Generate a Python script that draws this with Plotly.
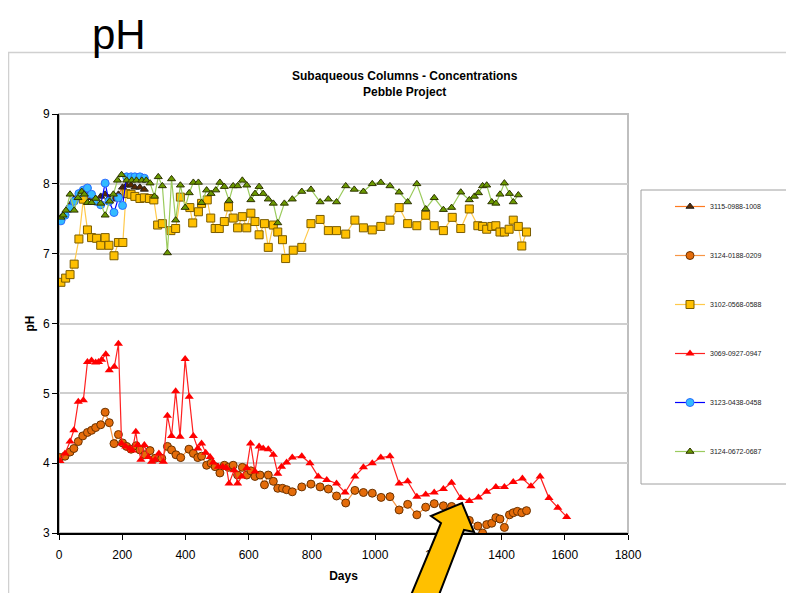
import plotly.graph_objects as go

# ---------------- data ----------------
days_3115 = [6, 19, 35, 48, 63, 77, 90, 103, 116, 132, 146, 158, 174, 188, 201, 214, 228, 240, 256, 270]
ph_3115 = [7.50, 7.58, 7.70, 7.78, 7.82, 7.85, 7.88, 7.80, 7.78, 7.82, 7.85, 7.80, 7.78, 7.85, 7.95, 7.98, 7.98, 7.95, 7.95, 7.92]

days_3124a = [3, 19, 35, 47, 61, 75, 90, 103, 116, 132, 146, 159, 174, 188, 201, 214, 228, 244, 256, 272,
              288, 304, 325, 343, 356, 370, 385, 411, 425, 439, 451, 467, 481, 494, 509, 523, 536, 551, 565, 580,
              594, 607, 620, 636, 650, 662, 678, 692, 707, 720, 738, 768, 797, 826, 852, 878, 907, 936, 963, 991,
              1019, 1047, 1076, 1103, 1132, 1160, 1187, 1216, 1242, 1270, 1298, 1325, 1340, 1353, 1369, 1382, 1395, 1409, 1425, 1437,
              1450, 1464, 1479]
ph_3124a = [4.08, 4.10, 4.16, 4.21, 4.31, 4.39, 4.44, 4.47, 4.51, 4.55, 4.73, 4.58, 4.28, 4.41, 4.29, 4.24, 4.20, 4.25, 4.19, 4.12,
            4.18, 4.07, 4.07, 4.24, 4.19, 4.12, 4.08, 4.20, 4.14, 4.08, 4.10, 3.97, 4.00, 3.95, 3.86, 3.97, 3.94, 3.97, 3.83, 3.94,
            3.83, 3.89, 3.81, 3.83, 3.69, 3.83, 3.74, 3.64, 3.64, 3.62, 3.59, 3.66, 3.70, 3.66, 3.63, 3.53, 3.43, 3.61, 3.58, 3.57,
            3.51, 3.52, 3.33, 3.41, 3.26, 3.37, 3.42, 3.39, 3.38, 3.33, 3.18, 3.10, 3.00, 3.12, 3.14, 3.22, 3.20, 3.08, 3.26, 3.29,
            3.31, 3.29, 3.32]

days_3102 = [6, 21, 35, 48, 63, 77, 90, 103, 119, 132, 146, 158, 174, 188, 202, 212, 228, 240, 256, 270,
             286, 300, 312, 327, 354, 369, 384, 414, 423, 441, 451, 469, 480, 494, 507, 523, 536, 551, 565, 580,
             594, 607, 620, 633, 650, 662, 678, 692, 707, 717, 741, 768, 797, 826, 852, 878, 907, 936, 963, 991,
             1018, 1047, 1076, 1103, 1132, 1160, 1187, 1216, 1244, 1271, 1298, 1325, 1340, 1353, 1369, 1382, 1395, 1409, 1424, 1437,
             1453, 1464, 1479]
ph_3102 = [6.59, 6.65, 6.70, 6.85, 7.21, 7.78, 7.34, 7.23, 7.22, 7.12, 7.23, 7.12, 6.97, 7.16, 7.16, 7.86, 7.85, 7.82, 7.79, 7.80,
           7.79, 7.77, 7.41, 7.43, 7.33, 7.36, 7.81, 7.66, 7.44, 7.60, 7.72, 7.77, 7.51, 7.36, 7.36, 7.46, 7.67, 7.51, 7.37, 7.53,
           7.37, 7.58, 7.46, 7.27, 7.43, 7.09, 7.41, 7.31, 7.20, 6.93, 7.05, 7.09, 7.43, 7.49, 7.33, 7.33, 7.28, 7.48, 7.37, 7.34,
           7.39, 7.48, 7.66, 7.43, 7.40, 7.55, 7.40, 7.33, 7.52, 7.36, 7.64, 7.40, 7.39, 7.35, 7.39, 7.40, 7.31, 7.31, 7.35, 7.48,
           7.39, 7.11, 7.31]

days_3069 = [3, 19, 35, 47, 61, 77, 90, 103, 116, 125, 135, 148, 159, 175, 188, 198, 211, 225, 232, 243,
             249, 259, 270, 283, 293, 304, 316, 330, 343, 356, 369, 383, 399, 412, 425, 439, 451, 464, 478, 488,
             504, 518, 530, 538, 554, 565, 578, 594, 606, 620, 633, 646, 662, 678, 692, 704, 720, 738, 768, 794,
             820, 847, 878, 905, 936, 963, 991, 1018, 1047, 1076, 1103, 1132, 1160, 1187, 1216, 1242, 1271, 1298, 1327, 1353,
             1382, 1409, 1437, 1466, 1493, 1522, 1550, 1578, 1606]
ph_3069 = [4.03, 4.14, 4.31, 4.47, 4.88, 4.90, 5.45, 5.47, 5.44, 5.45, 5.48, 5.56, 5.33, 5.38, 5.71, 4.28, 4.24, 4.21, 4.18, 4.45,
           4.26, 4.05, 4.26, 4.09, 4.02, 4.05, 4.14, 4.02, 4.68, 4.39, 5.03, 4.38, 5.49, 4.95, 4.39, 4.21, 4.28, 4.15, 4.09, 4.01,
           3.95, 3.95, 3.93, 3.71, 3.90, 3.71, 3.81, 3.93, 4.28, 3.88, 4.24, 4.21, 4.20, 4.12, 3.85, 3.95, 4.01, 4.08, 4.10, 4.00,
           3.81, 3.76, 3.71, 3.58, 3.81, 3.94, 4.00, 4.08, 4.10, 3.71, 3.74, 3.52, 3.55, 3.58, 3.63, 3.72, 3.50, 3.46, 3.51, 3.59,
           3.66, 3.66, 3.73, 3.78, 3.67, 3.81, 3.50, 3.36, 3.23]

days_3123 = [6, 19, 35, 48, 63, 77, 90, 103, 116, 132, 146, 158, 174, 188, 201, 214, 228, 240, 256, 270]
ph_3123 = [7.47, 7.55, 7.65, 7.75, 7.86, 7.91, 7.94, 7.85, 7.75, 7.70, 8.01, 7.75, 7.59, 7.80, 7.69, 8.10, 8.10, 8.10, 8.10, 8.08]

days_3124b = [6, 13, 22, 35, 48, 60, 72, 80, 90, 103, 116, 132, 146, 160, 172, 185, 198, 214, 230, 245,
              262, 276, 288, 302, 314, 327, 343, 356, 369, 384, 399, 412, 425, 441, 451, 467, 481, 496, 509, 523,
              538, 551, 565, 580, 594, 607, 620, 633, 646, 662, 678, 692, 713, 738, 768, 797, 826, 852, 878, 907,
              934, 963, 991, 1018, 1047, 1076, 1103, 1132, 1160, 1187, 1216, 1242, 1271, 1298, 1314, 1327, 1340, 1353, 1369, 1382,
              1395, 1409, 1425, 1437, 1453]
ph_3124b = [7.52, 7.55, 7.62, 7.85, 7.62, 7.80, 7.89, 7.85, 7.73, 7.73, 7.79, 7.72, 7.55, 7.75, 7.85, 8.05, 8.13, 8.05, 8.05, 8.05,
            8.05, 8.05, 8.01, 7.82, 8.10, 7.97, 7.01, 8.07, 7.48, 7.98, 7.66, 7.87, 8.02, 8.02, 7.73, 7.91, 7.86, 7.91, 8.02, 7.96,
            7.76, 7.97, 7.97, 8.05, 7.98, 7.77, 7.86, 7.96, 7.86, 7.78, 7.72, 7.44, 7.72, 7.78, 7.89, 7.92, 7.74, 7.78, 7.74, 7.97,
            7.92, 7.89, 8.00, 8.02, 7.97, 7.88, 7.74, 8.00, 7.64, 7.80, 7.63, 7.66, 7.88, 7.77, 7.82, 7.87, 7.97, 7.98, 7.74, 7.72,
            7.85, 8.01, 7.86, 7.74, 7.84]

x_ticks = [0, 200, 400, 600, 800, 1000, 1200, 1400, 1600, 1800]
y_ticks = [3, 4, 5, 6, 7, 8, 9]

# ---------------- geometry helpers (screen pixel -> paper) ----------------
# the page body has an 8px margin, so the figure starts at screen (8, 8)
OFF = 8
SW, SH = 794, 593
W, H = SW - OFF, SH - OFF
X0, X1, Y0, Y1 = 59, 628, 114, 533   # plot area in screen pixels
ML, MR, MT, MB = X0 - OFF, SW - X1, Y0 - OFF, SH - Y1
PW, PH = X1 - X0, Y1 - Y0


def px(x):
    return (x - X0) / PW


def py(y):
    return (Y1 - y) / PH


FONT = "Liberation Sans, Arial, sans-serif"

series = [
    ("3115-0988-1008", days_3115, ph_3115, "#FF7A1F", dict(symbol="triangle-up", size=7, color="#5a2a00",
                                                           line=dict(color="#222", width=1))),
    ("3124-0188-0209", days_3124a, ph_3124a, "#F79646", dict(symbol="circle", size=8, color="#E46C0A",
                                                             line=dict(color="#6b3200", width=1))),
    ("3102-0568-0588", days_3102, ph_3102, "#FFC94A", dict(symbol="square", size=8, color="#FFC000",
                                                           line=dict(color="#7a5c00", width=1))),
    ("3069-0927-0947", days_3069, ph_3069, "#FF2020", dict(symbol="triangle-up", size=8, color="#FF0000",
                                                           line=dict(color="#FF0000", width=0))),
    ("3123-0438-0458", days_3123, ph_3123, "#0000FF", dict(symbol="circle", size=8, color="#33BBFF",
                                                           line=dict(color="#2a6cff", width=1))),
    ("3124-0672-0687", days_3124b, ph_3124b, "#9BCB5E", dict(symbol="triangle-up", size=7, color="#6B9A00",
                                                             line=dict(color="#2d3300", width=1))),
]

fig = go.Figure()
for i, (name, xs, ys, lc, mk) in enumerate(series):
    fig.add_trace(go.Scatter(x=xs, y=ys, name=name, mode="lines+markers",
                             line=dict(color=lc, width=1.2), marker=mk,
                             legendgroup=f"g{i}"))

shapes = []
# outer chart border
shapes.append(dict(type="rect", xref="paper", yref="paper",
                   x0=px(8.5), x1=px(792.5), y0=py(600), y1=py(52.5),
                   line=dict(color="#D0D0D0", width=1.5), fillcolor="rgba(0,0,0,0)", layer="below"))
# plot-area border
shapes.append(dict(type="rect", xref="paper", yref="paper", x0=0, x1=1, y0=0, y1=1,
                   line=dict(color="#BFBFBF", width=2), fillcolor="rgba(0,0,0,0)", layer="below"))
# legend box
shapes.append(dict(type="rect", xref="paper", yref="paper",
                   x0=px(641), x1=px(788), y0=py(484), y1=py(190),
                   line=dict(color="#A0A0A0", width=1), fillcolor="white", layer="below"))
# block arrow
pts = [(462, 503), (474, 532), (464, 530), (437, 600), (409, 600), (441, 523), (431, 516)]
path = "M " + " L ".join(f"{px(a):.5f},{py(b):.5f}" for a, b in pts) + " Z"
shapes.append(dict(type="path", xref="paper", yref="paper", path=path,
                   fillcolor="#FFC000", line=dict(color="black", width=2), layer="above"))

annotations = [
    dict(text="pH", xref="paper", yref="paper", x=px(90), y=py(8.5), xanchor="left", yanchor="top",
         showarrow=False, font=dict(family=FONT, size=42, color="black")),
    dict(text="<b>Subaqueous Columns - Concentrations</b><br><b>Pebble Project</b>",
         xref="paper", yref="paper", x=px(405), y=py(84), xanchor="center", yanchor="middle",
         showarrow=False, font=dict(family=FONT, size=12, color="black")),
]

fig.update_layout(
    width=W, height=H, autosize=False,
    margin=dict(l=ML, r=MR, t=MT, b=MB, pad=0),
    paper_bgcolor="white", plot_bgcolor="white",
    font=dict(family=FONT, size=12, color="black"),
    shapes=shapes, annotations=annotations,
    showlegend=True,
    legend=dict(x=px(670), y=py(192), xanchor="left", yanchor="top",
                bgcolor="rgba(0,0,0,0)", borderwidth=0,
                font=dict(family=FONT, size=7, color="#222"),
                tracegroupgap=30, itemwidth=30),
    xaxis=dict(range=[0, 1800], tickvals=x_ticks, ticktext=[str(v) for v in x_ticks],
               showgrid=False, zeroline=False, showline=True, linecolor="black", linewidth=2,
               ticks="outside", ticklen=5, tickcolor="black", tickwidth=1,
               ticklabelstandoff=5,
               tickfont=dict(family=FONT, size=12),
               title=dict(text="<b>Days</b>", font=dict(family=FONT, size=12), standoff=10)),
    yaxis=dict(range=[3, 9], tickvals=y_ticks, ticktext=[str(v) for v in y_ticks],
               showgrid=True, gridcolor="#CFCFCF", gridwidth=2, zeroline=False,
               showline=True, linecolor="black", linewidth=2,
               ticks="outside", ticklen=5, tickcolor="black", tickwidth=1,
               tickfont=dict(family=FONT, size=12),
               title=dict(text="<b>pH</b>", font=dict(family=FONT, size=12), standoff=6)),
)

fig.write_html("out.html")
